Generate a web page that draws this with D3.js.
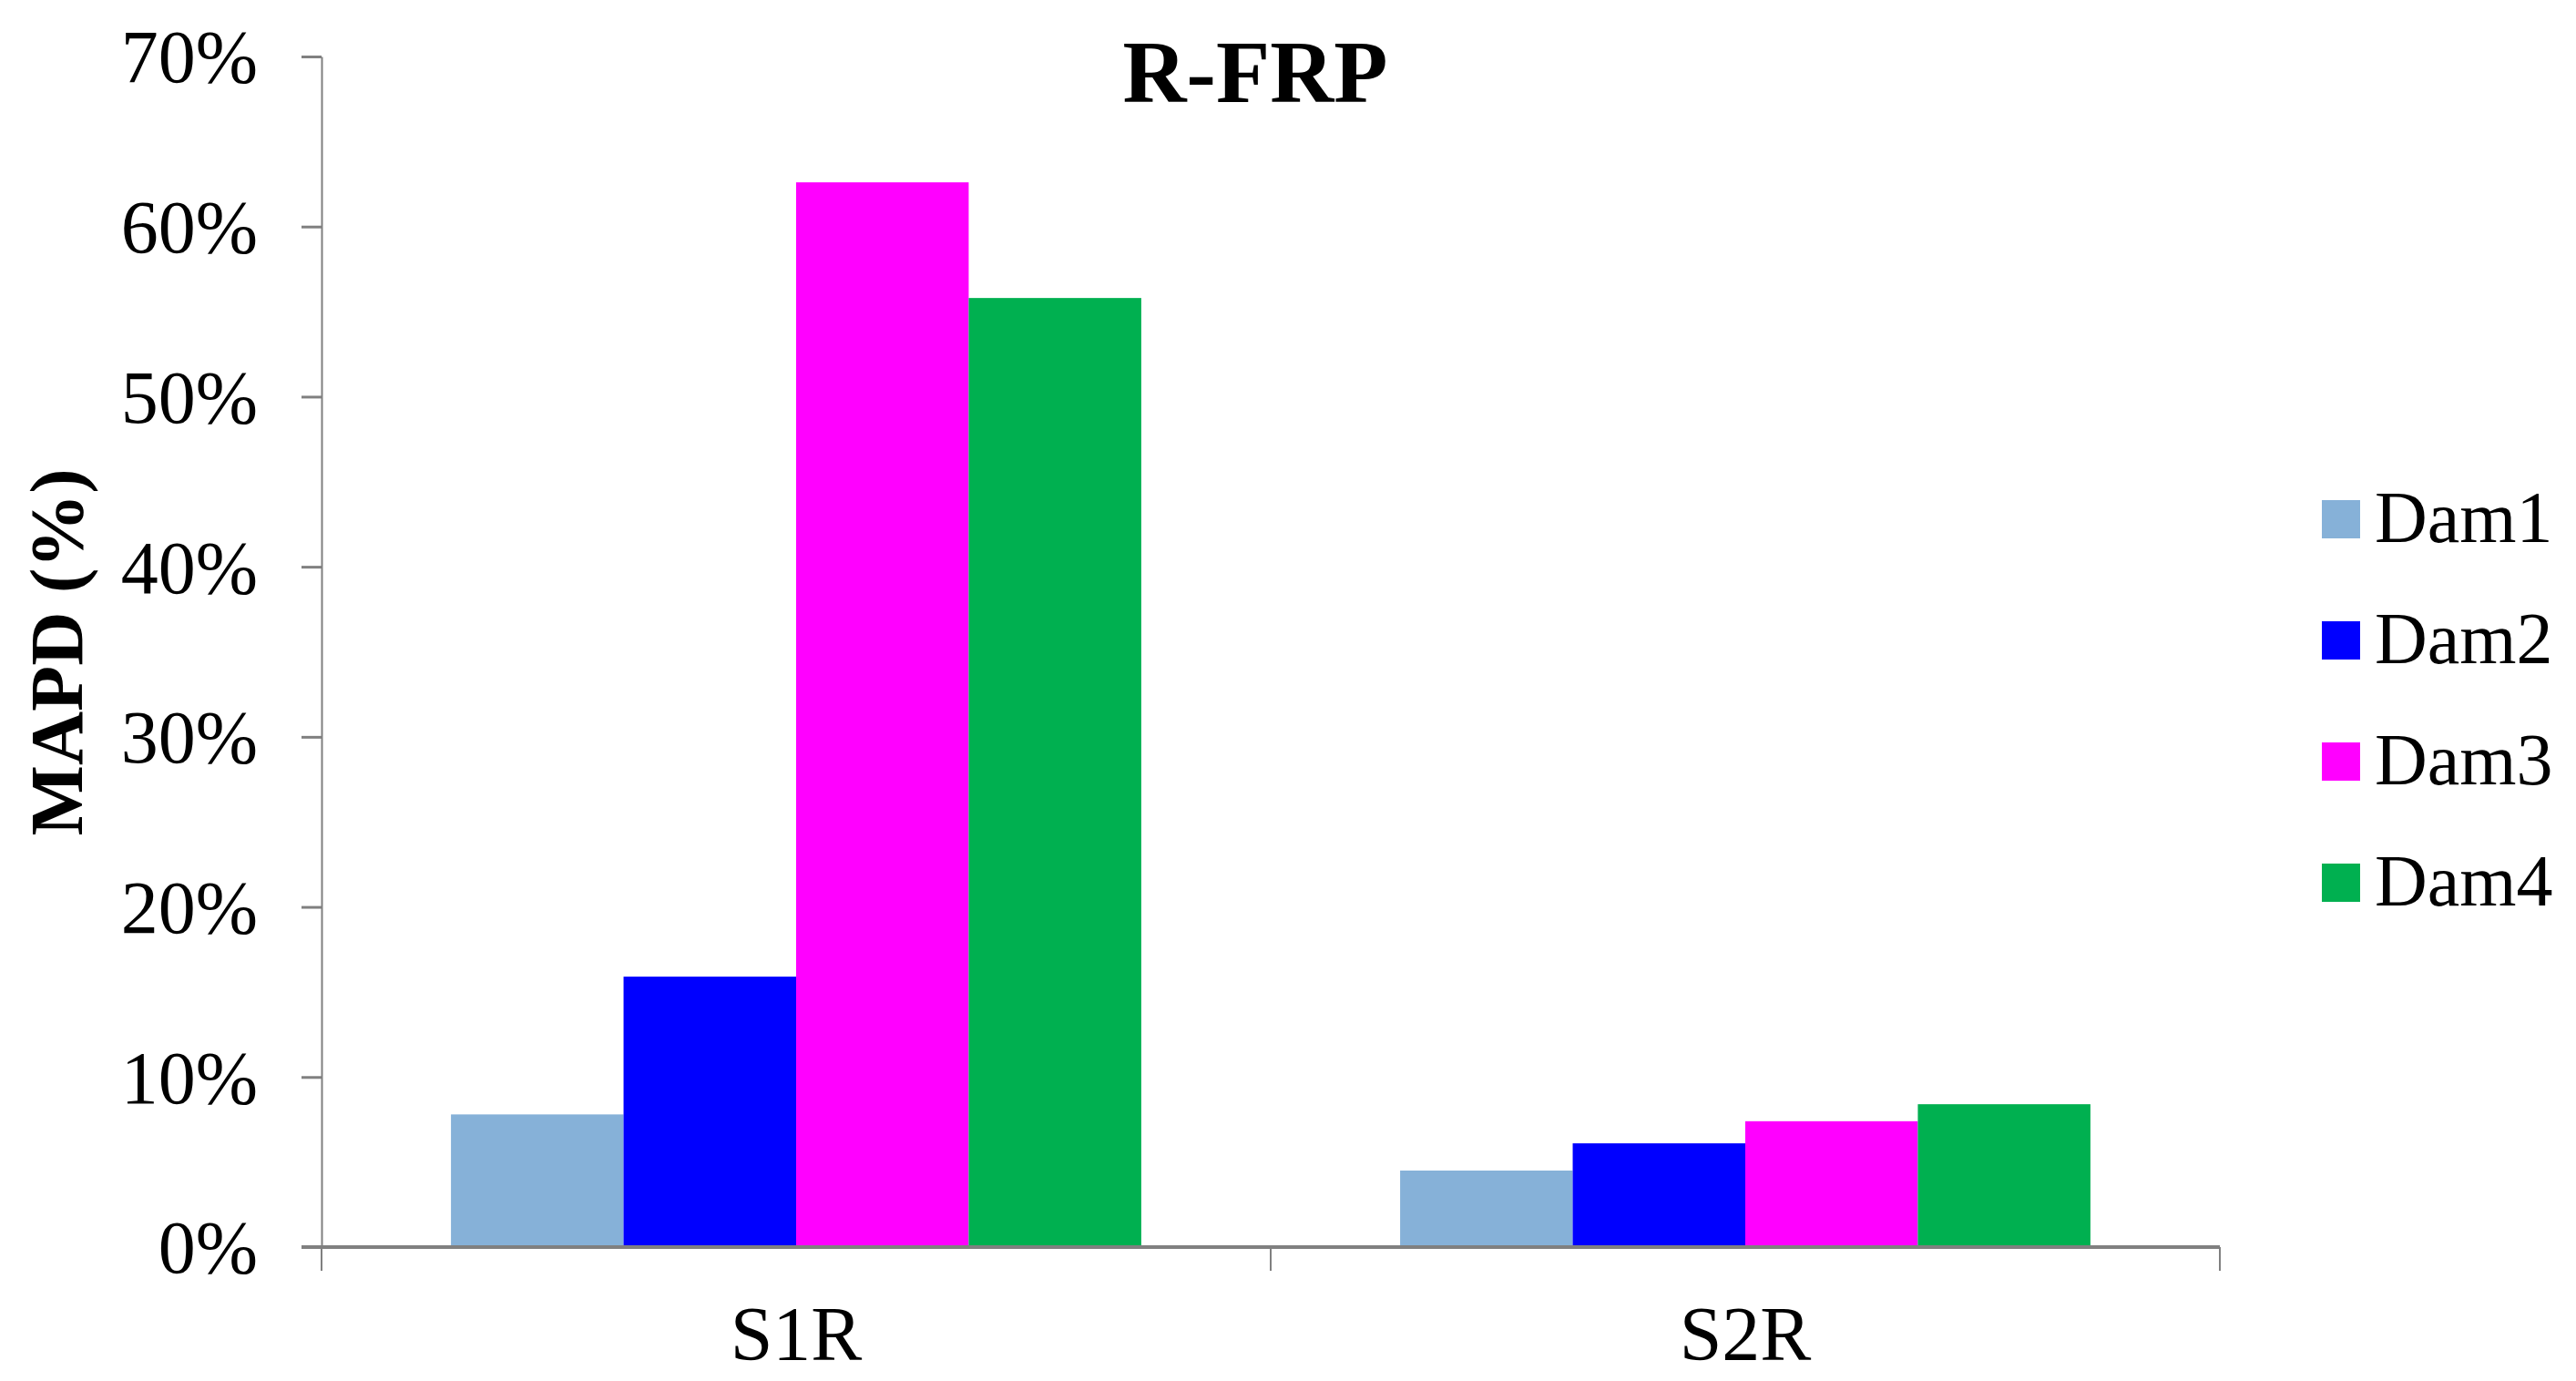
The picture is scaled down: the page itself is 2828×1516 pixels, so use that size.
<!DOCTYPE html>
<html>
<head>
<meta charset="utf-8">
<script src="https://cdn.jsdelivr.net/npm/d3@7"></script>
<style>
  body { margin: 0; background: #fff; }
  text { font-family: "Liberation Serif", "Times New Roman", serif; fill: #000; }
</style>
</head>
<body>
<svg width="2828" height="1516"></svg>
<script>
"use strict";

// chart data
const categories = ["S1R", "S2R"];
const seriesNames = ["Dam1", "Dam2", "Dam3", "Dam4"];
const seriesColors = ["#86b1d8", "#0000ff", "#ff00ff", "#00b050"];
const dam1 = [0.078, 0.045];
const dam2 = [0.159, 0.061];
const dam3 = [0.626, 0.074];
const dam4 = [0.558, 0.084];
const yTicks = [0, 0.1, 0.2, 0.3, 0.4, 0.5, 0.6, 0.7];

const seriesValues = [dam1, dam2, dam3, dam4];

window.addEventListener("load", drawChart);

function drawChart() {
    const svg = d3.select("svg");

    const left = 353, right = 2437, top = 62, bottom = 1369;

    const x = d3.scaleBand()
        .domain(categories)
        .range([left, right])
        .padding(0);

    const xInner = d3.scaleBand()
        .domain(seriesNames)
        .range([0, x.bandwidth()])
        .paddingInner(0)
        .paddingOuter(0.75);

    const y = d3.scaleLinear()
        .domain([0, 0.7])
        .range([bottom, top]);

    const color = d3.scaleOrdinal()
        .domain(seriesNames)
        .range(seriesColors);

    // bars
    const rows = [];
    categories.forEach((c, i) => {
        seriesNames.forEach((s, j) => {
            rows.push({cat: c, series: s, value: seriesValues[j][i]});
        });
    });

    svg.append("g")
        .selectAll("rect")
        .data(rows)
        .join("rect")
            .attr("x", d => x(d.cat) + xInner(d.series))
            .attr("y", d => y(d.value))
            .attr("width", xInner.bandwidth())
            .attr("height", d => y(0) - y(d.value))
            .attr("fill", d => color(d.series));

    // y axis
    const yAxis = svg.append("g")
        .attr("transform", `translate(${left}, 0)`)
        .call(d3.axisLeft(y)
            .tickValues(yTicks)
            .tickFormat(d3.format(".0%"))
            .tickSize(22)
            .tickSizeOuter(0)
            .tickPadding(48));
    yAxis.select(".domain").attr("stroke", "#808080").attr("stroke-width", 2);
    yAxis.selectAll(".tick line").attr("stroke", "#808080").attr("stroke-width", 3);
    yAxis.selectAll(".tick text")
        .attr("font-size", 82)
        .attr("font-family", "Liberation Serif")
        .attr("fill", "#000")
        .attr("dy", "0.34em");

    // x axis line
    svg.append("line")
        .attr("x1", left - 22).attr("x2", right)
        .attr("y1", y(0)).attr("y2", y(0))
        .attr("stroke", "#808080")
        .attr("stroke-width", 4);

    // category boundary ticks
    const bounds = categories.map(c => x(c)).concat([x(categories[categories.length - 1]) + x.bandwidth()]);
    svg.append("g")
        .selectAll("line")
        .data(bounds)
        .join("line")
            .attr("x1", d => d).attr("x2", d => d)
            .attr("y1", y(0)).attr("y2", y(0) + 26)
            .attr("stroke", "#808080")
            .attr("stroke-width", 2);

    // category labels
    svg.append("g")
        .selectAll("text")
        .data(categories)
        .join("text")
            .attr("x", d => x(d) + x.bandwidth() / 2)
            .attr("y", 1493)
            .attr("text-anchor", "middle")
            .attr("font-size", 84)
            .text(d => d);

    // title
    svg.append("text")
        .attr("x", 1378)
        .attr("y", 112)
        .attr("text-anchor", "middle")
        .attr("font-size", 97)
        .attr("font-weight", "bold")
        .text("R-FRP");

    // y label
    svg.append("text")
        .attr("transform", `translate(90 716) rotate(-90)`)
        .attr("text-anchor", "middle")
        .attr("font-size", 82)
        .attr("font-weight", "bold")
        .text("MAPD (%)");

    // legend
    const legend = svg.append("g")
        .selectAll("g")
        .data(seriesNames)
        .join("g")
            .attr("transform", (d, i) => `translate(2547, ${595 + i * 133})`);

    legend.append("rect")
        .attr("x", 2)
        .attr("y", -46)
        .attr("width", 42)
        .attr("height", 42)
        .attr("fill", d => color(d));

    legend.append("text")
        .attr("x", 60)
        .attr("y", 0)
        .attr("font-size", 80)
        .text(d => d);
}
</script>
</body>
</html>
